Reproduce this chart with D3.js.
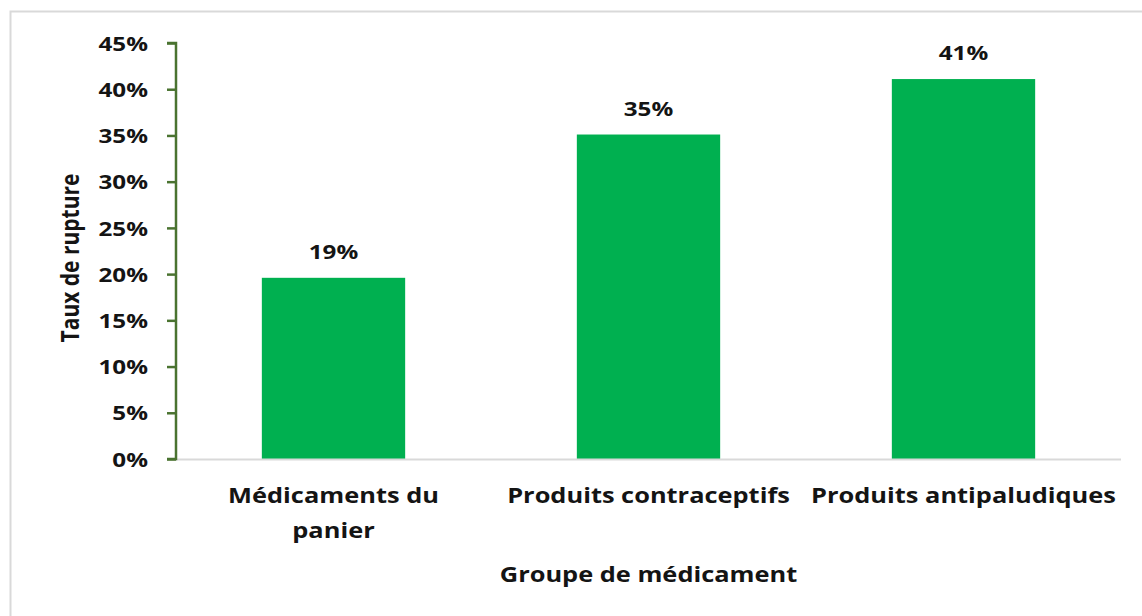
<!DOCTYPE html>
<html>
<head>
<meta charset="utf-8">
<script src="https://cdn.jsdelivr.net/npm/d3@7"></script>
<style>
  body { margin: 0; background: #fff; }
  text { font-family: "Open Sans", sans-serif; font-weight: bold; fill: #141414; }
</style>
</head>
<body>
<div id="chart"></div>
<script>
// data
var categories = [["Médicaments du", "panier"], ["Produits contraceptifs"], ["Produits antipaludiques"]]
var values = [0.196, 0.351, 0.411]
var valueLabels = ["19%", "35%", "41%"]
var yTicks = [0, 0.05, 0.10, 0.15, 0.20, 0.25, 0.30, 0.35, 0.40, 0.45]

var width = 1142,
    height = 616,
    margin = {top: 43, right: 21, bottom: 157, left: 176}

// the original picture is stretched sideways a bit, so text is widened too
var sx = 1.21

var svg = d3.select("#chart")
  .append("svg")
    .attr("width", width)
    .attr("height", height)

// outer frame (right and bottom edges fall outside the picture)
svg.append("rect")
  .attr("x", 10.5).attr("y", 11.5)
  .attr("width", width).attr("height", height)
  .attr("fill", "none")
  .attr("stroke", "#d9d9d9")
  .attr("stroke-width", 2)

var g = svg.append("g")
  .attr("transform", "translate(" + margin.left + "," + margin.top + ")")

var innerH = height - margin.top - margin.bottom

var x = d3.scaleBand()
  .domain(d3.range(categories.length))
  .range([0, 945])
  .paddingInner(0.545)
  .paddingOuter(0.2725)

var y = d3.scaleLinear()
  .domain([0, 0.45])
  .range([innerH, 0])

// bars
g.selectAll(".bar")
  .data(values)
  .enter()
  .append("rect")
    .attr("class", "bar")
    .attr("x", (d, i) => x(i))
    .attr("y", d => y(d))
    .attr("width", x.bandwidth())
    .attr("height", d => innerH - y(d))
    .attr("fill", "#00b050")

// x axis baseline
g.append("line")
  .attr("x1", 0).attr("x2", 945)
  .attr("y1", innerH + 0.5).attr("y2", innerH + 0.5)
  .attr("stroke", "#d9d9d9")
  .attr("stroke-width", 2)

// value labels
g.selectAll(".val")
  .data(values)
  .enter()
  .append("text")
    .attr("class", "val")
    .attr("transform", (d, i) => "translate(" + (x(i) + x.bandwidth() / 2) + "," + (y(d) - 19) + ") scale(" + sx + ",1)")
    .attr("text-anchor", "middle")
    .style("font-size", "20px")
    .text((d, i) => valueLabels[i])

// y axis
var yAxis = g.append("g")
  .call(d3.axisLeft(y).tickValues(yTicks).tickSize(9).tickFormat(d3.format(".0%")))
yAxis.select(".domain").attr("stroke", "#4a7330").attr("stroke-width", 2.5)
  .attr("d", "M-9,0H0V" + innerH + "H-9")
yAxis.selectAll(".tick line").attr("stroke", "#4a7330").attr("stroke-width", 2.5)
yAxis.selectAll(".tick text")
  .style("font-size", "20px")
  .style("font-family", "'Open Sans', sans-serif")
  .style("font-weight", "bold")
  .attr("fill", "#141414")
  .attr("x", 0)
  .attr("dy", "0.36em")
  .attr("transform", "translate(-28,0) scale(" + sx + ",1)")

// category labels
g.selectAll(".cat")
  .data(categories)
  .enter()
  .append("text")
    .attr("class", "cat")
    .attr("text-anchor", "middle")
    .style("font-size", "21px")
    .attr("transform", (d, i) => "translate(" + (x(i) + x.bandwidth() / 2) + "," + (innerH + 44) + ") scale(" + sx + ",1)")
  .selectAll("tspan")
  .data(d => d)
  .enter()
  .append("tspan")
    .attr("x", 0)
    .attr("dy", (d, i) => i === 0 ? 0 : 35)
    .text(d => d)

// axis titles
svg.append("text")
  .attr("transform", "translate(" + (margin.left + 945 / 2) + ",582) scale(" + sx + ",1)")
  .attr("text-anchor", "middle")
  .style("font-size", "21px")
  .text("Groupe de médicament")

svg.append("text")
  .attr("transform", "translate(79,258) scale(" + sx + ",1) rotate(-90)")
  .attr("text-anchor", "middle")
  .style("font-size", "21px")
  .text("Taux de rupture")
</script>
</body>
</html>
